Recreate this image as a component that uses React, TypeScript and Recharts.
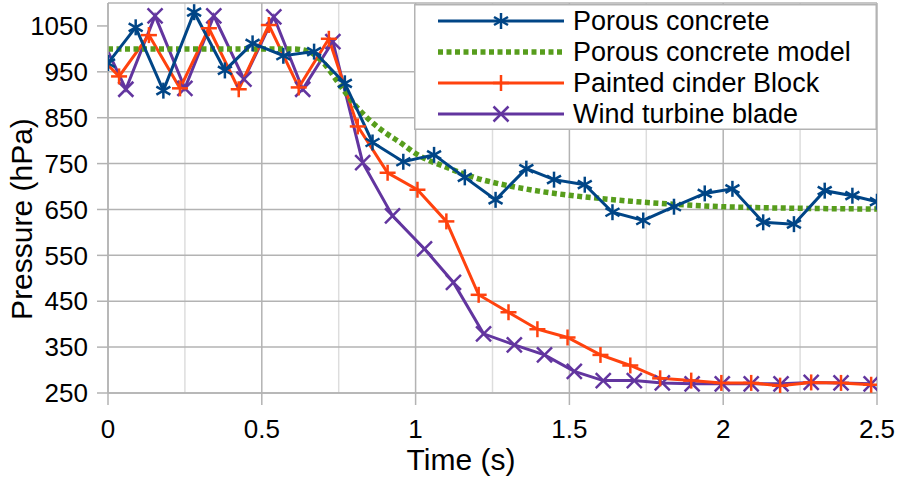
import React from 'react';
import { LineChart, Line, XAxis, YAxis, CartesianGrid, Legend } from 'recharts';

// time (s) and pressure (hPa)
const concreteTime = [0, 0.09, 0.18, 0.28, 0.38, 0.47, 0.57, 0.67, 0.77, 0.86, 0.96, 1.06, 1.16, 1.26, 1.36, 1.45, 1.55, 1.64, 1.74, 1.84, 1.94, 2.03, 2.13, 2.23, 2.33, 2.42, 2.5];
const concreteP = [969, 1047, 909, 1080, 953, 1012, 985, 994, 925, 796, 754, 769, 720, 671, 739, 715, 704, 644, 626, 656, 685, 695, 622, 618, 691, 680, 667];

const modelTime = [0, 0.3, 0.6, 0.65, 0.7, 0.75, 0.8, 0.85, 0.9, 0.95, 1.0, 1.1, 1.2, 1.3, 1.4, 1.5, 1.6, 1.7, 1.8, 1.9, 2.0, 2.2, 2.5];
const modelP = [1000, 1000, 1000, 995, 970, 925, 880, 845, 818, 796, 772, 742, 718, 702, 690, 681, 674, 668, 663, 659, 656, 653, 651];

const blockTime = [-0.06, 0.036, 0.133, 0.234, 0.328, 0.425, 0.523, 0.62, 0.718, 0.812, 0.909, 1.006, 1.1, 1.205, 1.302, 1.396, 1.494, 1.601, 1.698, 1.795, 1.896, 1.994, 2.091, 2.185, 2.286, 2.383, 2.481];
const blockP = [1005, 940, 1030, 914, 1045, 912, 1052, 916, 1022, 831, 730, 693, 624, 464, 426, 389, 371, 333, 310, 282, 277, 272, 272, 266, 273, 272, 268];

const bladeTime = [-0.039, 0.058, 0.153, 0.25, 0.344, 0.442, 0.539, 0.633, 0.731, 0.828, 0.925, 1.029, 1.123, 1.221, 1.321, 1.419, 1.516, 1.61, 1.711, 1.802, 1.899, 1.997, 2.091, 2.188, 2.286, 2.383, 2.481];
const bladeP = [1050, 912, 1072, 914, 1072, 934, 1070, 912, 1016, 752, 636, 564, 491, 379, 355, 333, 297, 277, 277, 272, 270, 270, 270, 270, 273, 272, 270];

const xTicks = [0, 0.5, 1, 1.5, 2, 2.5];
const xMinor = [0.25, 0.75, 1.25, 1.75, 2.25];
const yTicks = [250, 350, 450, 550, 650, 750, 850, 950, 1050];

const toRows = (ts: number[], ps: number[]) => ts.map((t, i) => ({ t, p: ps[i] }));

const BLUE = '#004586';
const GREEN = '#579d1c';
const ORANGE = '#ff420e';
const PURPLE = '#62359f';
const GRID = '#b3b3b3';
const FONT = '"Liberation Sans", Arial, sans-serif';

const drawMarker = (kind: string, cx: number, cy: number, color: string) => {
  if (kind === 'star') {
    return (
      <g stroke={color} strokeWidth={2.5}>
        <line x1={cx} y1={cy - 8} x2={cx} y2={cy + 8} />
        <line x1={cx - 7} y1={cy - 4} x2={cx + 7} y2={cy + 4} />
        <line x1={cx - 7} y1={cy + 4} x2={cx + 7} y2={cy - 4} />
      </g>
    );
  }
  if (kind === 'plus') {
    return (
      <g stroke={color} strokeWidth={2.5}>
        <line x1={cx} y1={cy - 8} x2={cx} y2={cy + 8} />
        <line x1={cx - 8} y1={cy} x2={cx + 8} y2={cy} />
      </g>
    );
  }
  return (
    <g stroke={color} strokeWidth={2.5}>
      <line x1={cx - 7.5} y1={cy - 7.5} x2={cx + 7.5} y2={cy + 7.5} />
      <line x1={cx - 7.5} y1={cy + 7.5} x2={cx + 7.5} y2={cy - 7.5} />
    </g>
  );
};

const dotFor = (kind: string, color: string) => (props: any) => {
  const { cx, cy, index, payload } = props;
  if (cx == null || cy == null || payload.t < 0) return <g key={`d-${kind}-${index}`} />;
  return <g key={`d-${kind}-${index}`}>{drawMarker(kind, cx, cy, color)}</g>;
};

const legendItems = [
  { name: 'Porous concrete', color: BLUE, kind: 'star' },
  { name: 'Porous concrete model', color: GREEN, kind: 'dash' },
  { name: 'Painted cinder Block', color: ORANGE, kind: 'plus' },
  { name: 'Wind turbine blade', color: PURPLE, kind: 'cross' },
];

const renderLegend = () => (
  <svg width={463} height={126} style={{ display: 'block' }}>
    <rect x={0.75} y={0.75} width={461.5} height={124.5} fill="#fff" stroke={GRID} strokeWidth={1.5} />
    {legendItems.map((it, i) => {
      const y = 17 + i * 31;
      return (
        <g key={it.name}>
          {it.kind === 'dash' ? (
            <line x1={24} y1={y} x2={150} y2={y} stroke={it.color} strokeWidth={5.5} strokeDasharray="5 3.5" />
          ) : (
            <>
              <line x1={24} y1={y} x2={150} y2={y} stroke={it.color} strokeWidth={3} />
              {drawMarker(it.kind, 87, y, it.color)}
            </>
          )}
          <text x={159} y={y} dominantBaseline="central" fontSize={27} fontFamily={FONT} fill="#000">
            {it.name}
          </text>
        </g>
      );
    })}
  </svg>
);

export default function App() {
  return (
    <div style={{ position: 'absolute', left: 0, top: 0, width: 899, height: 482, background: '#fff' }}>
      <LineChart width={899} height={482} margin={{ top: 3, right: 22, bottom: 0, left: 0 }}>
        <CartesianGrid horizontal={false} verticalValues={xMinor} stroke="#dddddd" strokeWidth={1.5} />
        <CartesianGrid
          horizontalValues={[...yTicks, 1100]}
          verticalValues={xTicks}
          stroke={GRID}
          strokeWidth={1.5}
        />
        <XAxis
          type="number"
          dataKey="t"
          domain={[0, 2.5]}
          ticks={xTicks}
          allowDataOverflow
          height={89}
          tickSize={12}
          tickMargin={15}
          axisLine={{ stroke: GRID, strokeWidth: 1.5 }}
          tickLine={{ stroke: GRID, strokeWidth: 1.5 }}
          tick={{ fill: '#000', fontSize: 26, fontFamily: FONT }}
          label={{
            content: () => (
              <text x={461} y={470} textAnchor="middle" fontSize={30} fontFamily={FONT} fill="#000">
                Time (s)
              </text>
            ),
          }}
        />
        <YAxis
          type="number"
          domain={[250, 1100]}
          ticks={yTicks}
          allowDataOverflow
          width={108}
          tickSize={11}
          tickMargin={9}
          axisLine={{ stroke: GRID, strokeWidth: 1.5 }}
          tickLine={{ stroke: GRID, strokeWidth: 1.5 }}
          tick={{ fill: '#000', fontSize: 26, fontFamily: FONT }}
          label={{
            content: () => (
              <text
                x={32}
                y={219}
                transform="rotate(-90 32 219)"
                textAnchor="middle"
                fontSize={30}
                fontFamily={FONT}
                fill="#000"
              >
                Pressure (hPa)
              </text>
            ),
          }}
        />
        <Legend
          layout="horizontal"
          verticalAlign="middle"
          align="center"
          content={renderLegend}
          wrapperStyle={{ position: 'absolute', top: 4, left: 414, width: 463, height: 126 }}
        />
        <Line
          data={toRows(bladeTime, bladeP)}
          dataKey="p"
          name="Wind turbine blade"
          type="linear"
          stroke={PURPLE}
          strokeWidth={3}
          dot={dotFor('cross', PURPLE)}
          isAnimationActive={false}
        />
        <Line
          data={toRows(blockTime, blockP)}
          dataKey="p"
          name="Painted cinder Block"
          type="linear"
          stroke={ORANGE}
          strokeWidth={3}
          dot={dotFor('plus', ORANGE)}
          isAnimationActive={false}
        />
        <Line
          data={toRows(modelTime, modelP)}
          dataKey="p"
          name="Porous concrete model"
          type="monotone"
          stroke={GREEN}
          strokeWidth={5.5}
          strokeDasharray="5 3.5"
          dot={false}
          isAnimationActive={false}
        />
        <Line
          data={toRows(concreteTime, concreteP)}
          dataKey="p"
          name="Porous concrete"
          type="linear"
          stroke={BLUE}
          strokeWidth={3}
          dot={dotFor('star', BLUE)}
          isAnimationActive={false}
        />
      </LineChart>
    </div>
  );
}
